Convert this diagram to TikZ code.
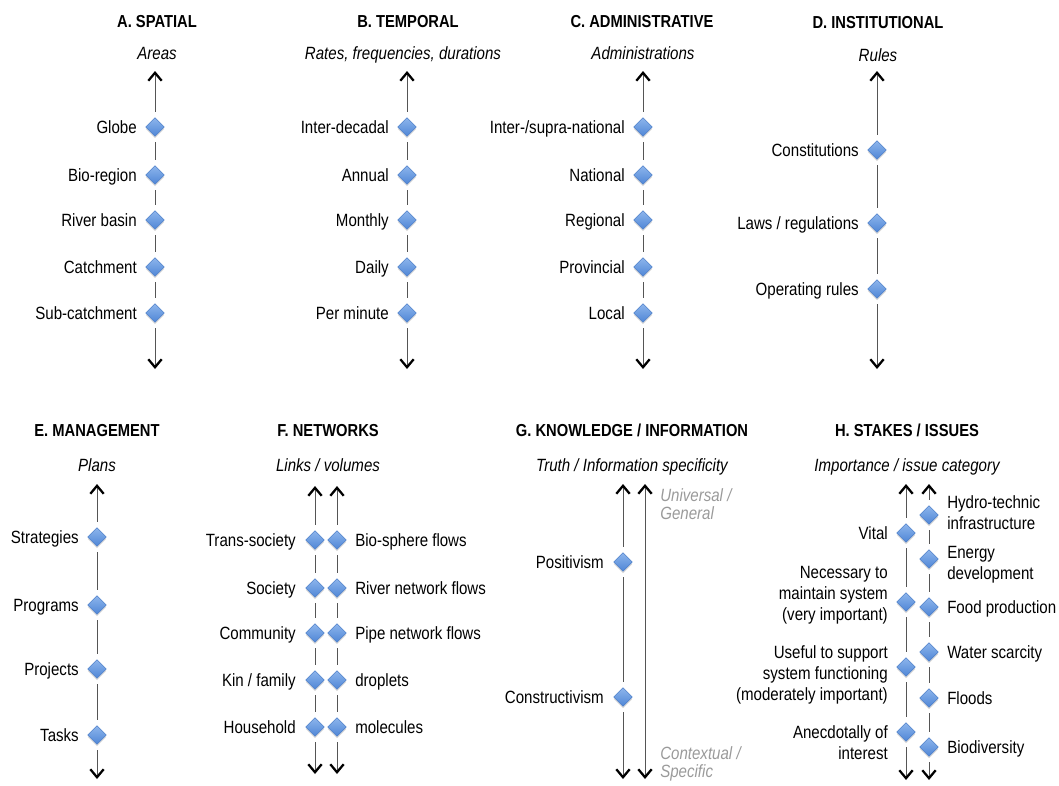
\documentclass[tikz,border=0pt]{standalone}
\usepackage{fontspec}
\setmainfont{Liberation Sans}[FakeStretch=0.85]
\usetikzlibrary{shapes.geometric,shadows,arrows.meta}
\definecolor{gemtop}{HTML}{8DB5EC}
\definecolor{gembot}{HTML}{4F86D6}
\definecolor{gemedge}{HTML}{4A7DC9}
\definecolor{spinegray}{HTML}{555555}
\definecolor{notegray}{HTML}{9A9A9A}

\begin{document}
\begin{tikzpicture}
	[x=0.75pt,y=-0.75pt,
	every node/.style={font=\fontsize{13.3}{15.75}\selectfont, inner sep=0pt},
	gem/.style={diamond, aspect=1, minimum size=16.5pt, draw=gemedge, line width=0.4pt,
		top color=gemtop, bottom color=gembot, outer sep=3.2pt,
		drop shadow={shadow xshift=0pt, shadow yshift=-1.5pt, opacity=0.3}},
	>={Straight Barb[length=6pt,width=10pt,line width=1.7pt,color=black]}]
	\tikzstyle{spine} = [draw=spinegray, line width=0.75pt];
	\tikzstyle{heading} = [anchor=base, font=\fontsize{13}{15.75}\selectfont\bfseries];
	\tikzstyle{subhead} = [anchor=base, font=\fontsize{13.3}{15.75}\selectfont\itshape];
	\tikzstyle{lbl} = [anchor=base east];
	\tikzstyle{rlbl} = [anchor=base west];
	\tikzstyle{note} = [anchor=north west, align=left, text=notegray, font=\fontsize{13.3}{13.5}\selectfont\itshape];
	
	\useasboundingbox (0,0) rectangle (1059,785);
	
	% A. spatial
	\node[heading] (Ahead) at (157,27) {A. SPATIAL};
	\node[subhead] (Asub) at (157,59) {Areas};
	\coordinate (At) at (155,71);
	\coordinate (Ab) at (155,369);
	\node[gem] (A1) at (155,127) {};
	\node[gem] (A2) at (155,175) {};
	\node[gem] (A3) at (155,220) {};
	\node[gem] (A4) at (155,267) {};
	\node[gem] (A5) at (155,313) {};
	\node[lbl] (Al1) at (137,133) {Globe};
	\node[lbl] (Al2) at (137,181) {Bio-region};
	\node[lbl] (Al3) at (137,226) {River basin};
	\node[lbl] (Al4) at (137,273) {Catchment};
	\node[lbl] (Al5) at (137,319) {Sub-catchment};
	\draw[spine,<-] (At) -- (A1);
	\draw[spine] (A1) -- (A2);
	\draw[spine] (A2) -- (A3);
	\draw[spine] (A3) -- (A4);
	\draw[spine] (A4) -- (A5);
	\draw[spine,->] (A5) -- (Ab);
	
	% B. temporal
	\node[heading] (Bhead) at (408,27) {B. TEMPORAL};
	\node[subhead] (Bsub) at (403,59) {Rates, frequencies, durations};
	\coordinate (Bt) at (407,71);
	\coordinate (Bb) at (407,369);
	\node[gem] (B1) at (407,127) {};
	\node[gem] (B2) at (407,175) {};
	\node[gem] (B3) at (407,220) {};
	\node[gem] (B4) at (407,267) {};
	\node[gem] (B5) at (407,313) {};
	\node[lbl] (Bl1) at (389,133) {Inter-decadal};
	\node[lbl] (Bl2) at (389,181) {Annual};
	\node[lbl] (Bl3) at (389,226) {Monthly};
	\node[lbl] (Bl4) at (389,273) {Daily};
	\node[lbl] (Bl5) at (389,319) {Per minute};
	\draw[spine,<-] (Bt) -- (B1);
	\draw[spine] (B1) -- (B2);
	\draw[spine] (B2) -- (B3);
	\draw[spine] (B3) -- (B4);
	\draw[spine] (B4) -- (B5);
	\draw[spine,->] (B5) -- (Bb);
	
	% C. administrative
	\node[heading] (Chead) at (642,27) {C. ADMINISTRATIVE};
	\node[subhead] (Csub) at (643,59) {Administrations};
	\coordinate (Ct) at (643,71);
	\coordinate (Cb) at (643,369);
	\node[gem] (C1) at (643,127) {};
	\node[gem] (C2) at (643,175) {};
	\node[gem] (C3) at (643,220) {};
	\node[gem] (C4) at (643,267) {};
	\node[gem] (C5) at (643,313) {};
	\node[lbl] (Cl1) at (625,133) {Inter-/supra-national};
	\node[lbl] (Cl2) at (625,181) {National};
	\node[lbl] (Cl3) at (625,226) {Regional};
	\node[lbl] (Cl4) at (625,273) {Provincial};
	\node[lbl] (Cl5) at (625,319) {Local};
	\draw[spine,<-] (Ct) -- (C1);
	\draw[spine] (C1) -- (C2);
	\draw[spine] (C2) -- (C3);
	\draw[spine] (C3) -- (C4);
	\draw[spine] (C4) -- (C5);
	\draw[spine,->] (C5) -- (Cb);
	
	% D. institutional
	\node[heading] (Dhead) at (878,28) {D. INSTITUTIONAL};
	\node[subhead] (Dsub) at (878,61) {Rules};
	\coordinate (Dt) at (877,71);
	\coordinate (Db) at (877,369);
	\node[gem] (D1) at (877,150) {};
	\node[gem] (D2) at (877,223) {};
	\node[gem] (D3) at (877,289) {};
	\node[lbl] (Dl1) at (859,156) {Constitutions};
	\node[lbl] (Dl2) at (859,229) {Laws / regulations};
	\node[lbl] (Dl3) at (859,295) {Operating rules};
	\draw[spine,<-] (Dt) -- (D1);
	\draw[spine] (D1) -- (D2);
	\draw[spine] (D2) -- (D3);
	\draw[spine,->] (D3) -- (Db);
	
	% E. management
	\node[heading] (Ehead) at (97,436) {E. MANAGEMENT};
	\node[subhead] (Esub) at (97,471) {Plans};
	\coordinate (Et) at (97,484);
	\coordinate (Eb) at (97,779);
	\node[gem] (E1) at (97,537) {};
	\node[gem] (E2) at (97,605) {};
	\node[gem] (E3) at (97,669) {};
	\node[gem] (E4) at (97,735) {};
	\node[lbl] (El1) at (79,543) {Strategies};
	\node[lbl] (El2) at (79,611) {Programs};
	\node[lbl] (El3) at (79,675) {Projects};
	\node[lbl] (El4) at (79,741) {Tasks};
	\draw[spine,<-] (Et) -- (E1);
	\draw[spine] (E1) -- (E2);
	\draw[spine] (E2) -- (E3);
	\draw[spine] (E3) -- (E4);
	\draw[spine,->] (E4) -- (Eb);
	
	% F. networks
	\node[heading] (Fhead) at (328,436) {F. NETWORKS};
	\node[subhead] (Fsub) at (328,471) {Links / volumes};
	\coordinate (Ft) at (315,486);
	\coordinate (Fb) at (315,774);
	\coordinate (Gt) at (337,486);
	\coordinate (Gb) at (337,774);
	\node[gem] (F1) at (315,540) {};
	\node[gem] (F2) at (315,588) {};
	\node[gem] (F3) at (315,633) {};
	\node[gem] (F4) at (315,680) {};
	\node[gem] (F5) at (315,727) {};
	\node[gem] (G1) at (337,540) {};
	\node[gem] (G2) at (337,588) {};
	\node[gem] (G3) at (337,633) {};
	\node[gem] (G4) at (337,680) {};
	\node[gem] (G5) at (337,727) {};
	\node[lbl] (Fl1) at (296,546) {Trans-society};
	\node[lbl] (Fl2) at (296,594) {Society};
	\node[lbl] (Fl3) at (296,639) {Community};
	\node[lbl] (Fl4) at (296,686) {Kin / family};
	\node[lbl] (Fl5) at (296,733) {Household};
	\node[rlbl] (Gl1) at (355,546) {Bio-sphere flows};
	\node[rlbl] (Gl2) at (355,594) {River network flows};
	\node[rlbl] (Gl3) at (355,639) {Pipe network flows};
	\node[rlbl] (Gl4) at (355,686) {droplets};
	\node[rlbl] (Gl5) at (355,733) {molecules};
	\draw[spine,<-] (Ft) -- (F1);
	\draw[spine] (F1) -- (F2);
	\draw[spine] (F2) -- (F3);
	\draw[spine] (F3) -- (F4);
	\draw[spine] (F4) -- (F5);
	\draw[spine,->] (F5) -- (Fb);
	\draw[spine,<-] (Gt) -- (G1);
	\draw[spine] (G1) -- (G2);
	\draw[spine] (G2) -- (G3);
	\draw[spine] (G3) -- (G4);
	\draw[spine] (G4) -- (G5);
	\draw[spine,->] (G5) -- (Gb);
	
	% G. knowledge / information
	\node[heading] (Khead) at (632,436) {G. KNOWLEDGE / INFORMATION};
	\node[subhead] (Ksub) at (632,471) {Truth / Information specificity};
	\coordinate (Kt) at (623,484);
	\coordinate (Kb) at (623,779);
	\coordinate (Ut) at (645,484);
	\coordinate (Ub) at (645,779);
	\node[gem] (K1) at (623,562) {};
	\node[gem] (K2) at (623,697) {};
	\node[lbl] (Kl1) at (604,568) {Positivism};
	\node[lbl] (Kl2) at (604,703) {Constructivism};
	\node[note] (Un) at (660,488) {Universal /\\General};
	\node[note] (Cn) at (660,746) {Contextual /\\Specific};
	\draw[spine,<-] (Kt) -- (K1);
	\draw[spine] (K1) -- (K2);
	\draw[spine,->] (K2) -- (Kb);
	\draw[spine,<->] (Ut) -- (Ub);
	
	% H. stakes / issues
	\node[heading] (Hhead) at (907,436) {H. STAKES / ISSUES};
	\node[subhead] (Hsub) at (907,471) {Importance / issue category};
	\coordinate (Ht) at (906,484);
	\coordinate (Hb) at (906,780);
	\coordinate (It) at (929,484);
	\coordinate (Ib) at (929,780);
	\node[gem] (H1) at (906,533) {};
	\node[gem] (H2) at (906,602) {};
	\node[gem] (H3) at (906,667) {};
	\node[gem] (H4) at (906,732) {};
	\node[gem] (I1) at (929,515) {};
	\node[gem] (I2) at (929,559) {};
	\node[gem] (I3) at (929,607) {};
	\node[gem] (I4) at (929,652) {};
	\node[gem] (I5) at (929,698) {};
	\node[gem] (I6) at (929,747) {};
	\node[lbl] (Hl1) at (888,539) {Vital};
	\node[anchor=east, align=right] (Hl2) at (888,595) {Necessary to\\maintain system\\(very important)};
	\node[anchor=east, align=right] (Hl3) at (888,675) {Useful to support\\system functioning\\(moderately important)};
	\node[anchor=east, align=right] (Hl4) at (888,743) {Anecdotally of\\interest};
	\node[anchor=west, align=left] (Il1) at (947,513) {Hydro-technic\\infrastructure};
	\node[anchor=west, align=left] (Il2) at (947,565) {Energy\\development};
	\node[rlbl] (Il3) at (947,613) {Food production};
	\node[rlbl] (Il4) at (947,658) {Water scarcity};
	\node[rlbl] (Il5) at (947,704) {Floods};
	\node[rlbl] (Il6) at (947,753) {Biodiversity};
	\draw[spine,<-] (Ht) -- (H1);
	\draw[spine] (H1) -- (H2);
	\draw[spine] (H2) -- (H3);
	\draw[spine] (H3) -- (H4);
	\draw[spine,->] (H4) -- (Hb);
	\draw[spine,<-] (It) -- (I1);
	\draw[spine] (I1) -- (I2);
	\draw[spine] (I2) -- (I3);
	\draw[spine] (I3) -- (I4);
	\draw[spine] (I4) -- (I5);
	\draw[spine] (I5) -- (I6);
	\draw[spine,->] (I6) -- (Ib);
\end{tikzpicture}
\end{document}
